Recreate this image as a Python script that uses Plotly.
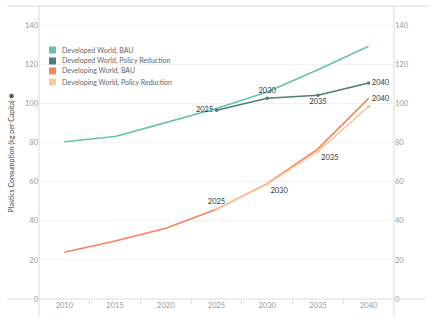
import plotly.graph_objects as go

years = [2010, 2015, 2020, 2025, 2030, 2035, 2040]
policy_years = [2025, 2030, 2035, 2040]
developed_bau = [80.5, 83.2, 90.3, 97.5, 106.0, 117.4, 129.4]
developed_policy = [96.6, 102.8, 104.3, 110.6]
developing_bau = [23.9, 29.7, 36.2, 46.0, 59.0, 76.9, 102.7]
developing_policy = [46.0, 58.8, 75.6, 98.6]
series_names = ["Developed World, BAU", "Developed World, Policy Reduction",
                "Developing World, BAU", "Developing World, Policy Reduction"]
colors = ["#66c2ae", "#4f7b78", "#f4845f", "#f9c99b"]
y_ticks = [0, 20, 40, 60, 80, 100, 120, 140]

fig = go.Figure()
lab = dict(family="Lato, sans-serif", size=7.5, color="#333")

fig.add_trace(go.Scatter(x=years, y=developed_bau, mode="lines", name=series_names[0],
                         line=dict(color=colors[0], width=1.6), showlegend=False))
fig.add_trace(go.Scatter(x=policy_years, y=developed_policy, mode="lines+markers+text", name=series_names[1],
                         line=dict(color=colors[1], width=1.6), marker=dict(size=3.5, color=colors[1]),
                         text=[str(y) for y in policy_years],
                         textposition=["middle left", "top center", "bottom center", "middle right"],
                         textfont=lab, showlegend=False))
fig.add_trace(go.Scatter(x=years, y=developing_bau, mode="lines", name=series_names[2],
                         line=dict(color=colors[2], width=1.6), showlegend=False))
fig.add_trace(go.Scatter(x=policy_years, y=developing_policy, mode="lines+markers+text", name=series_names[3],
                         line=dict(color=colors[3], width=1.6), marker=dict(size=3.5, color=colors[3]),
                         text=[str(y) for y in policy_years],
                         textposition=["top center", "bottom right", "bottom right", "top right"],
                         textfont=lab, showlegend=False))
fig.add_trace(go.Scatter(x=[None], y=[None], yaxis="y2", showlegend=False))

tickfont = dict(family="Lato, sans-serif", size=7.5, color="#999")
fig.update_layout(
    width=433, height=324,
    margin=dict(l=39, r=39, t=6, b=25),
    plot_bgcolor="white", paper_bgcolor="white",
    showlegend=False,
    xaxis=dict(range=[2007.5, 2042.5], tickvals=years, ticktext=[str(y) for y in years],
               showgrid=False, zeroline=False, showline=False, ticks="",
               tickfont=tickfont,
               minor=dict(tickvals=[2012.5, 2017.5, 2022.5, 2027.5, 2032.5, 2037.5],
                          ticks="outside", ticklen=4, tickcolor="#ddd")),
    yaxis=dict(range=[0, 150], tickvals=y_ticks, showgrid=True, gridcolor="#f2f2f2",
               zeroline=False, showline=False, ticks="", tickfont=tickfont,
               title=dict(text="Plastics Consumption (kg per Capita) ✱",
                          font=dict(family="Lato, sans-serif", size=7, color="#444"),
                          standoff=9)),
    yaxis2=dict(range=[0, 150], tickvals=y_ticks, overlaying="y", side="right",
                showgrid=False, zeroline=False, showline=False, ticks="", tickfont=tickfont),
)

# custom legend (compact rows like the reference)
row_y = [0.8498, 0.8123, 0.7782, 0.7406]
half = 0.0119
for n, c, yy in zip(series_names, colors, row_y):
    fig.add_shape(type="rect", xref="paper", yref="paper", x0=0.0282, x1=0.0479,
                  y0=yy - half, y1=yy + half, fillcolor=c, line=dict(width=0))
    fig.add_annotation(xref="paper", yref="paper", x=0.0592, y=yy, text=n, showarrow=False,
                       xanchor="left", yanchor="middle",
                       font=dict(family="Lato, sans-serif", size=7, color="#666"))

shape_line = dict(color="#dcdcdc", width=1)
fig.add_shape(type="line", xref="paper", yref="paper", x0=-0.09, x1=1.1, y0=1, y1=1, line=shape_line)
fig.add_shape(type="line", xref="paper", yref="paper", x0=-0.09, x1=1.09, y0=0, y1=0, line=shape_line)
fig.add_shape(type="line", xref="paper", yref="paper", x0=0, x1=0, y0=-0.062, y1=1, line=shape_line)
fig.add_shape(type="line", xref="paper", yref="paper", x0=1, x1=1, y0=-0.062, y1=1, line=shape_line)

fig.write_html("out.html")
